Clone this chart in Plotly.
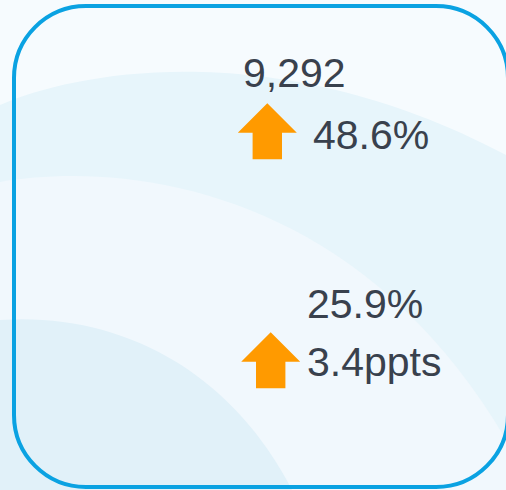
import plotly.graph_objects as go

# ---- data ----
kpi_values = [9292, 25.9]
kpi_formats = ["{:,.0f}", "{:.1f}%"]
change_values = [48.6, 3.4]
change_units = ["%", "ppts"]
change_dirs = ["up", "up"]

W, H = 506, 490
TEXT_COLOR = "#39414d"
ARROW_COLOR = "#ff9a00"
BORDER_COLOR = "#0aa2e2"
FONT = "Liberation Sans, Arial, sans-serif"
FS = 41

fig = go.Figure()

# ---- background bands ----
shapes = []
shapes.append(dict(type="rect", xref="x", yref="y", x0=0, y0=0, x1=W, y1=H,
                   fillcolor="#e7f5fb", line=dict(width=0), layer="below"))
shapes.append(dict(type="path", xref="x", yref="y",
                   path="M 0 105 C 80 70, 280 35, 506 155 L 506 0 L 0 0 Z",
                   fillcolor="#f6fbfe", line=dict(width=0), layer="below"))
shapes.append(dict(type="path", xref="x", yref="y",
                   path="M 0 182 C 130 160, 360 190, 506 440 L 506 490 L 0 490 Z",
                   fillcolor="#f1f8fd", line=dict(width=0), layer="below"))
shapes.append(dict(type="path", xref="x", yref="y",
                   path="M 0 320 C 120 312, 230 370, 292 490 L 0 490 Z",
                   fillcolor="#e1f1f9", line=dict(width=0), layer="below"))

# ---- card border (rounded rect) ----
x0, y0, x1, y1, r = 14, 6, 508, 487, 72
k = 0.5523 * r
p = (f"M {x0+r} {y0} L {x1-r} {y0} "
     f"C {x1-r+k} {y0}, {x1} {y0+r-k}, {x1} {y0+r} "
     f"L {x1} {y1-r} "
     f"C {x1} {y1-r+k}, {x1-r+k} {y1}, {x1-r} {y1} "
     f"L {x0+r} {y1} "
     f"C {x0+r-k} {y1}, {x0} {y1-r+k}, {x0} {y1-r} "
     f"L {x0} {y0+r} "
     f"C {x0} {y0+r-k}, {x0+r-k} {y0}, {x0+r} {y0} Z")
shapes.append(dict(type="path", xref="x", yref="y", path=p,
                   line=dict(color=BORDER_COLOR, width=4), fillcolor="rgba(0,0,0,0)",
                   layer="above"))

# ---- layout positions for the two KPI blocks ----
value_pos = [(240.5, 73), (305, 304)]
change_pos = [(310.5, 135), (304.5, 362)]
arrow_tip = [(267.3, 103.3), (270.7, 332.3)]

# arrow template (relative to tip)
HW, SW, HB, HT = 29.5, 14.7, 29.5, 56
tmpl_x = [0, HW, SW, SW, -SW, -SW, -HW, 0]
tmpl_y = [0, HB, HB, HT, HT, HB, HB, 0]

annotations = []
for i in range(len(kpi_values)):
    vx, vy = value_pos[i]
    annotations.append(dict(x=vx, y=vy, xref="x", yref="y", xanchor="left", yanchor="middle",
                            text=kpi_formats[i].format(kpi_values[i]), showarrow=False,
                            font=dict(family=FONT, size=FS, color=TEXT_COLOR)))
    cx, cy = change_pos[i]
    annotations.append(dict(x=cx, y=cy, xref="x", yref="y", xanchor="left", yanchor="middle",
                            text=f"{change_values[i]:.1f}{change_units[i]}", showarrow=False,
                            font=dict(family=FONT, size=FS, color=TEXT_COLOR)))
    tx, ty = arrow_tip[i]
    sign = 1 if change_dirs[i] == "up" else -1
    fig.add_trace(go.Scatter(
        x=[tx + dx for dx in tmpl_x],
        y=[ty + sign * dy for dy in tmpl_y],
        mode="lines", fill="toself", fillcolor=ARROW_COLOR,
        line=dict(width=0, color=ARROW_COLOR), hoverinfo="skip", showlegend=False))

fig.update_layout(
    width=W, height=H, margin=dict(l=0, r=0, t=0, b=0),
    paper_bgcolor="#eef8fc", plot_bgcolor="rgba(0,0,0,0)",
    xaxis=dict(range=[0, W], visible=False, fixedrange=True),
    yaxis=dict(range=[H, 0], visible=False, fixedrange=True),
    shapes=shapes, annotations=annotations, showlegend=False,
)
fig.write_html("out.html", config={"displayModeBar": False},
               post_script="document.body.style.margin='0';document.body.style.overflow='hidden';")
